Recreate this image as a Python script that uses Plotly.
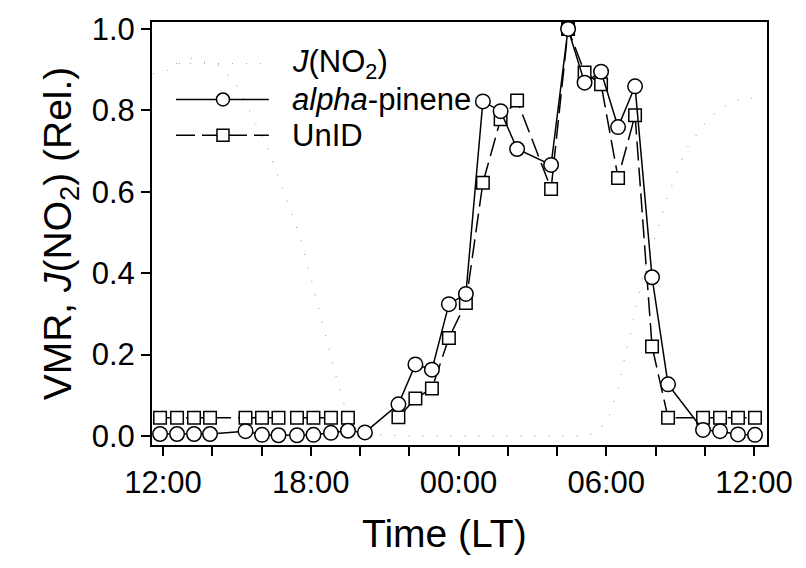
import plotly.graph_objects as go

# Sampling times in hours counted from 00:00 of the first day (values > 24 fall on the next day)
sample_hours = [11.88, 12.57, 13.26, 13.91, 15.35, 16.02, 16.69, 17.44, 18.11, 18.82,
                19.51, 20.20, 21.56, 22.25, 22.92, 23.61, 24.30, 24.99, 25.71, 26.38,
                27.76, 28.45, 29.12, 29.79, 30.48, 31.17, 31.86, 32.51, 33.93, 34.62,
                35.35, 36.04]

# Relative volume mixing ratios
alpha_pinene = [0.005, 0.005, 0.005, 0.005, 0.012, 0.003, 0.002, 0.002, 0.003, 0.008,
                0.013, 0.009, 0.078, 0.176, 0.163, 0.324, 0.349, 0.822, 0.798, 0.705,
                0.666, 1.000, 0.868, 0.895, 0.759, 0.859, 0.390, 0.127, 0.015, 0.012,
                0.004, 0.003]
unid = [0.045, 0.045, 0.045, 0.045, 0.045, 0.045, 0.045, 0.045, 0.045, 0.045,
        0.045, None, 0.046, 0.092, 0.117, 0.241, 0.327, 0.622, 0.778, 0.824,
        0.607, 1.000, 0.893, 0.864, 0.634, 0.788, 0.220, 0.045, 0.045, 0.045,
        0.045, 0.045]

# Relative NO2 photolysis frequency
jno2_hours = [11.6, 12.3, 13.0, 13.6, 14.3, 15.0, 15.6, 16.3, 16.9, 17.5, 18.0, 18.6,
              19.1, 19.5, 20.0, 22.0, 24.0, 26.0, 28.0, 29.1, 29.4, 29.9, 30.1, 30.5,
              30.8, 31.0, 31.2, 31.6, 32.1, 32.5, 33.2, 33.5, 34.1, 34.5, 35.2, 35.7, 36.4]
jno2 = [0.89, 0.90, 0.93, 0.92, 0.91, 0.86, 0.79, 0.70, 0.60, 0.50, 0.39, 0.25,
        0.13, 0.05, 0.005, 0.0, 0.0, 0.0, 0.0, 0.0, 0.005, 0.027, 0.046, 0.12,
        0.207, 0.254, 0.317, 0.42, 0.51, 0.59, 0.70, 0.727, 0.776, 0.798, 0.824, 0.829, 0.832]

# Axis ticks: every two hours, labelled every six hours
tick_hours = [12, 14, 16, 18, 20, 22, 24, 26, 28, 30, 32, 34, 36]
tick_labels = ["12:00", "", "", "18:00", "", "", "00:00", "", "", "06:00", "", "", "12:00"]
y_ticks = [0.0, 0.2, 0.4, 0.6, 0.8, 1.0]

FONT = "Liberation Sans, Arial, sans-serif"
JNO2_COLOR = "#a8a8a8"
JNO2_DASH = "1px,13px"
UNID_DASH = "19px,7px"
TICK_SIZE = 31
TITLE_SIZE = 39

fig = go.Figure()

fig.add_trace(go.Scatter(
    x=jno2_hours, y=jno2, mode="lines",
    line=dict(color=JNO2_COLOR, width=1.2, dash=JNO2_DASH),
    name="J(NO2)", showlegend=False))

fig.add_trace(go.Scatter(
    x=sample_hours, y=unid, mode="lines+markers",
    line=dict(color="black", width=1.5, dash=UNID_DASH),
    marker=dict(symbol="square", size=12.5, color="white",
                line=dict(color="black", width=1.5)),
    connectgaps=False, name="UnID", showlegend=False))

fig.add_trace(go.Scatter(
    x=sample_hours, y=alpha_pinene, mode="lines+markers",
    line=dict(color="black", width=1.5),
    marker=dict(symbol="circle", size=14.5, color="white",
                line=dict(color="black", width=1.5)),
    name="alpha-pinene", showlegend=False))

# Legend drawn in paper coordinates: sample line, sample marker, label
legend_rows = [
    ("<i>J</i>(NO<sub>2</sub>)", 0.9014, dict(color=JNO2_COLOR, width=1.2, dash=JNO2_DASH), None),
    ("<i>alpha</i>-pinene", 0.8169, dict(color="black", width=1.5, dash="solid"), "circle"),
    ("UnID", 0.7324, dict(color="black", width=1.5, dash=UNID_DASH), "rect"),
]
shapes = []
annotations = []
for label, yy, ln, mk in legend_rows:
    shapes.append(dict(type="line", xref="paper", yref="paper",
                       x0=0.039, x1=0.190, y0=yy, y1=yy, line=ln, layer="above"))
    if mk is not None:
        half = 6.5 if mk == "circle" else 6
        shapes.append(dict(type=mk, xref="paper", yref="paper",
                           xsizemode="pixel", ysizemode="pixel",
                           xanchor=0.1154, yanchor=yy,
                           x0=-half, x1=half, y0=-half, y1=half,
                           fillcolor="white", line=dict(color="black", width=1.5),
                           layer="above"))
    annotations.append(dict(x=0.2244, y=yy, xref="paper", yref="paper",
                            text=label, showarrow=False, xanchor="left", yanchor="middle",
                            font=dict(family=FONT, size=TICK_SIZE, color="black")))

# x-axis title, set slightly left of the plot centre
annotations.append(dict(x=0.476, y=-0.209, xref="paper", yref="paper",
                        text="Time (LT)", showarrow=False, xanchor="center", yanchor="middle",
                        font=dict(family=FONT, size=TITLE_SIZE, color="black")))

fig.update_layout(
    width=806, height=568,
    margin=dict(l=152, r=39, t=19, b=123),
    paper_bgcolor="white", plot_bgcolor="white",
    font=dict(family=FONT, color="black"),
    shapes=shapes, annotations=annotations,
    showlegend=False,
)

fig.update_xaxes(
    range=[11.553, 36.528], tickmode="array", tickvals=tick_hours, ticktext=tick_labels,
    ticks="outside", ticklen=9, tickwidth=1.5, tickcolor="black",
    showline=True, linecolor="black", linewidth=2, mirror=True,
    showgrid=False, zeroline=False,
    tickfont=dict(family=FONT, size=TICK_SIZE),
)
fig.update_yaxes(
    range=[-0.022, 1.017], tickmode="array", tickvals=y_ticks, tickformat=".1f",
    ticks="outside", ticklen=9, tickwidth=1.5, tickcolor="black",
    showline=True, linecolor="black", linewidth=2, mirror=True,
    showgrid=False, zeroline=False,
    tickfont=dict(family=FONT, size=TICK_SIZE),
    title=dict(text="VMR, <i>J</i>(NO<sub>2</sub>) (Rel.)", font=dict(family=FONT, size=TITLE_SIZE), standoff=8),
)

fig.write_html("out.html")
